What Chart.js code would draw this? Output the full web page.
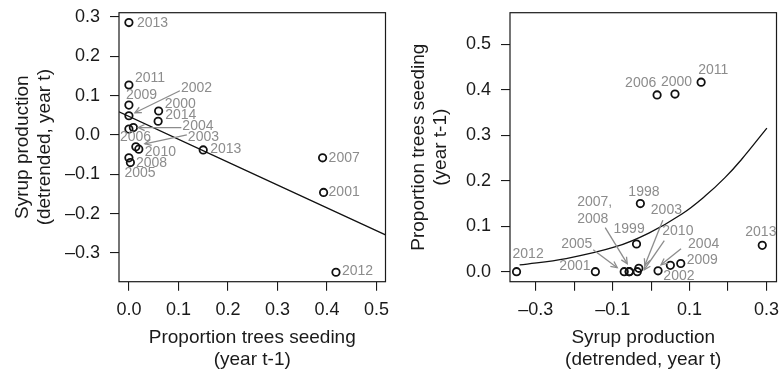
<!DOCTYPE html>
<html><head><meta charset="utf-8">
<script src="https://cdn.jsdelivr.net/npm/chart.js@4.4.1/dist/chart.umd.min.js"></script>
<style>
html,body{margin:0;padding:0;background:#fff;}
#wrap{position:relative;width:782px;height:371px;overflow:hidden;}
.panel{position:absolute;top:0;width:391px;height:371px;}
#p1{left:0}#p2{left:391px}
</style></head><body>
<div id="wrap"><div class="panel" id="p1"><canvas id="c1" width="391" height="371"></canvas></div><div class="panel" id="p2"><canvas id="c2" width="391" height="371"></canvas></div></div>
<script>
// ---------- Left panel: syrup production (year t) vs proportion trees seeding (year t-1)
const leftYears   = ['2013','2011','2009','2002','2000','2014','2004','2006','2003','2010','2013','2007','2001','2012','2008','2005'];
const leftSeeding = [0, 0, 0, 0, 0.060, 0.059, 0.009, 0, 0.014, 0.020, 0.150, 0.391, 0.393, 0.418, 0, 0.003];
const leftSyrup   = [0.286, 0.127, 0.076, 0.049, 0.061, 0.035, 0.019, 0.015, -0.030, -0.036, -0.038, -0.058, -0.146, -0.349, -0.058, -0.070];
const leftFitX = [-0.02, 0.518];
const leftFitY = [0.059, -0.254];
const leftXTicks = [0, 0.1, 0.2, 0.3, 0.4, 0.5];
const leftXTickLabels = ['0.0','0.1','0.2','0.3','0.4','0.5'];
const leftYTicks = [-0.3, -0.2, -0.1, 0, 0.1, 0.2, 0.3];
const leftYTickLabels = ['\u20130.3','\u20130.2','\u20130.1','0.0','0.1','0.2','0.3'];

// ---------- Right panel: proportion trees seeding (year t-1) vs syrup production (year t)
const rightYears   = ['2012','2001','2005','2007','2008','1999','1998','2010','2003','2004','2002','2009','2013','2006','2000','2011'];
const rightSyrup   = [-0.350, -0.145, -0.070, -0.057, -0.057, -0.038, -0.028, -0.036, -0.032, 0.018, 0.050, 0.077, 0.289, 0.0155, 0.062, 0.130];
const rightSeeding = [0, 0, 0, 0, 0, 0.061, 0.150, 0, 0.0075, 0.002, 0.014, 0.018, 0.058, 0.389, 0.391, 0.417];
const rightCurveX = [-0.342, -0.221, -0.092, -0.006, 0.080, 0.141, 0.192, 0.235, 0.301];
const rightCurveY = [0.0148, 0.029, 0.055, 0.085, 0.127, 0.167, 0.207, 0.247, 0.316];
const rightXTicks = [-0.3, -0.2, -0.1, 0, 0.1, 0.2, 0.3];
const rightXTickLabels = ['\u20130.3','','\u20130.1','','0.1','','0.3'];
const rightYTicks = [0, 0.1, 0.2, 0.3, 0.4, 0.5];
const rightYTickLabels = ['0.0','0.1','0.2','0.3','0.4','0.5'];

// ---------- label placement (pixel offsets from each point; arrows: from/to offsets)
const leftLabelLayout = [
  {dx:8,dy:1},{dx:6,dy:-7},{dx:-3,dy:-10},
  {dx:52,dy:-28,arrow:[51,-25,6,-3]},
  {dx:6,dy:-7},{dx:7,dy:-6},
  {dx:49,dy:-1,arrow:[48,0,5,0]},
  {dx:-9,dy:8},
  {dx:52,dy:-10,arrow:[51,-12,9,-3]},
  {dx:6,dy:3},{dx:7,dy:-1},{dx:6,dy:0},{dx:5,dy:0},{dx:6,dy:-1},
  {dx:7,dy:5},{dx:-6,dy:11}
];
const rightLabelLayout = [
  {dx:-4,dy:-18},{dx:-36,dy:-6},
  {dx:-63,dy:-28,arrow:[-31,-22,-7,-4]},
  {dx:-52,dy:-70,text:'2007,'},
  {dx:-52,dy:-53,arrow:[-24,-44,-2,-8]},
  {dx:-23,dy:-15},{dx:-12,dy:-11},
  {dx:25,dy:-41,arrow:[27,-31,7,-2]},
  {dx:12,dy:-58,arrow:[24,-48,6,-3]},
  {dx:30,dy:-27,arrow:[23,-22,3,-6]},
  {dx:-7,dy:11},{dx:6,dy:-3},{dx:-17,dy:-13},
  {dx:-32,dy:-12},{dx:-14,dy:-12},{dx:-3,dy:-12}
];

const FONT = '"Liberation Sans", Arial, Helvetica, sans-serif';
const INK = '#1a1a1a';
const GREY = '#8c8c8c';

function pts(xs, ys){ return xs.map((x,i)=>({x:x, y:ys[i]})); }

function annotPlugin(years, layout){
  return {
    id:'annot',
    afterDatasetsDraw(chart){
      const ctx = chart.ctx, a = chart.chartArea;
      ctx.save();
      ctx.strokeStyle = INK; ctx.lineWidth = 1.2;
      ctx.strokeRect(a.left, a.top, a.right-a.left, a.bottom-a.top);
      const meta = chart.getDatasetMeta(0);
      ctx.font = '14px ' + FONT;
      ctx.fillStyle = GREY; ctx.strokeStyle = GREY; ctx.lineWidth = 1.3;
      ctx.textAlign = 'left'; ctx.textBaseline = 'middle';
      meta.data.forEach((el,i)=>{
        const L = layout[i]; if(!L) return;
        const px = el.x, py = el.y;
        ctx.fillText(L.text || years[i], px+L.dx, py+L.dy);
        if(L.arrow){
          const [x1,y1,x2,y2] = L.arrow;
          const ax=px+x1, ay=py+y1, bx=px+x2, by=py+y2;
          ctx.beginPath(); ctx.moveTo(ax,ay); ctx.lineTo(bx,by); ctx.stroke();
          const ang = Math.atan2(by-ay, bx-ax), h=7, w=Math.PI/7;
          ctx.beginPath();
          ctx.moveTo(bx-h*Math.cos(ang-w), by-h*Math.sin(ang-w));
          ctx.lineTo(bx,by);
          ctx.lineTo(bx-h*Math.cos(ang+w), by-h*Math.sin(ang+w));
          ctx.stroke();
        }
      });
      ctx.restore();
    }
  };
}

function axis(min, max, ticks, labels, title, isX, titlePad){
  return {
    type:'linear', min:min, max:max,
    afterBuildTicks: s => { s.ticks = ticks.map(v=>({value:v})); },
    afterFit: s => {
      if(isX){ s.height = 89.3; s.paddingLeft = 0; s.paddingRight = 0; }
      else { s.width = 119; s.paddingTop = 0; s.paddingBottom = 0; }
    },
    ticks:{
      autoSkip:false, maxRotation:0, minRotation:0, padding: isX ? 9 : 10,
      color: INK, font:{family:FONT, size:18},
      callback: (v) => { const k = ticks.findIndex(t=>Math.abs(t-v)<1e-9); return k>=0 ? labels[k] : ''; }
    },
    grid:{drawOnChartArea:false, drawTicks:true, tickLength:9, color:INK, lineWidth:1.1},
    border:{display:false},
    title:{display:true, text:title, color:INK, font:{family:FONT, size:19, lineHeight:1.15}, padding: titlePad}
  };
}

function makeChart(id, scatterPts, linePts, years, layout, xs, ys){
  return new Chart(document.getElementById(id), {
    type:'scatter',
    data:{datasets:[
      {data:scatterPts, pointRadius:3.7, pointHoverRadius:3.7, pointBorderWidth:1.8, borderColor:'#111', backgroundColor:'rgba(0,0,0,0)', showLine:false},
      {data:linePts, showLine:true, pointRadius:0, borderColor:'#111', borderWidth:1.3, tension:0.4, fill:false}
    ]},
    options:{
      responsive:false, animation:false, devicePixelRatio:1,
      layout:{padding:{left:0, right:3.7, top:12.7, bottom:0}},
      plugins:{legend:{display:false}, tooltip:{enabled:false}},
      scales:{x:xs, y:ys}
    },
    plugins:[annotPlugin(years, layout)]
  });
}

makeChart('c1', pts(leftSeeding, leftSyrup), pts(leftFitX, leftFitY), leftYears, leftLabelLayout,
  axis(-0.02, 0.518, leftXTicks, leftXTickLabels, ['Proportion trees seeding','(year t-1)'], true, {top:0,bottom:0}),
  axis(-0.373, 0.311, leftYTicks, leftYTickLabels, ['Syrup production','(detrended, year t)'], false, {top:12,bottom:0}));

makeChart('c2', pts(rightSyrup, rightSeeding), pts(rightCurveX, rightCurveY), rightYears, rightLabelLayout,
  axis(-0.367, 0.326, rightXTicks, rightXTickLabels, ['Syrup production','(detrended, year t)'], true, {top:0,bottom:0}),
  axis(-0.022, 0.570, rightYTicks, rightYTickLabels, ['Proportion trees seeding','(year t-1)'], false, {top:17,bottom:0}));
</script>
</body></html>
